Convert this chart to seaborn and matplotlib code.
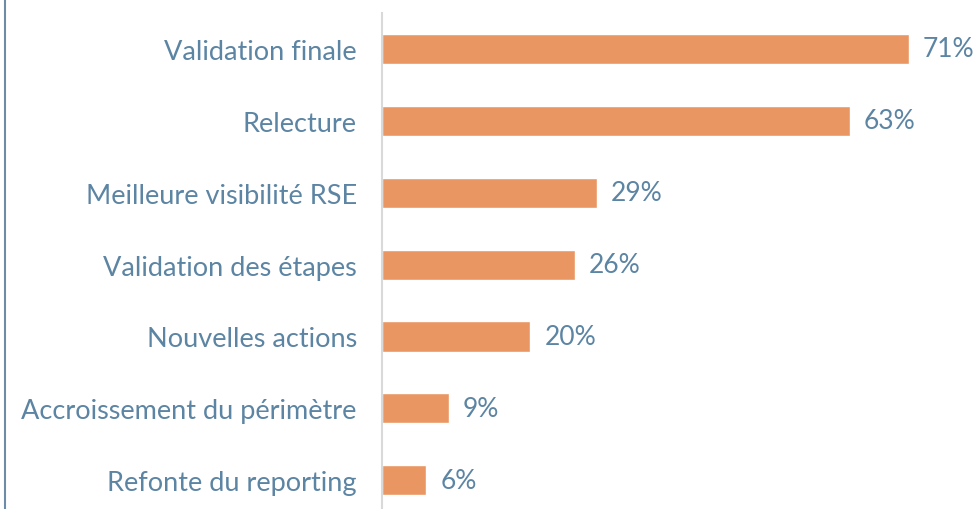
import matplotlib.pyplot as plt
import seaborn as sns
import pandas as pd
from matplotlib.lines import Line2D

# ---------------------------------------------------------
# Data
# ---------------------------------------------------------

categories = [
    "Validation finale",
    "Relecture",
    "Meilleure visibilité RSE",
    "Validation des étapes",
    "Nouvelles actions",
    "Accroissement du périmètre",
    "Refonte du reporting",
]

values = [71, 63, 29, 26, 20, 9, 6]

value_labels = ["71%", "63%", "29%", "26%", "20%", "9%", "6%"]

BAR_COLOR = "#EA9662"
TEXT_COLOR = "#5C84A3"

# ---------------------------------------------------------
# Plot Style
# ---------------------------------------------------------

sns.set_style("white")
plt.rcParams["font.family"] = ["Lato", "DejaVu Sans"]

df = pd.DataFrame({"category": categories, "value": values})

fig = plt.figure(figsize=(9.79, 5.10), dpi=100)
ax = fig.add_axes([0.390, 0.0, 0.607, 0.9725])

sns.barplot(
    data=df,
    x="value",
    y="category",
    orient="h",
    color=BAR_COLOR,
    width=0.42,
    saturation=1,
    ax=ax,
)

for patch, label in zip(ax.patches, value_labels):
    ax.annotate(
        label,
        (patch.get_width(), patch.get_y() + patch.get_height() / 2),
        xytext=(10, 0),
        textcoords="offset points",
        va="center",
        ha="left",
        fontsize=19,
        color=TEXT_COLOR,
    )

ax.set_xlim(0, 80)
ax.set_ylim(6.4, -0.5)

ax.set_xlabel("")
ax.set_ylabel("")
ax.set_xticks([])

ax.tick_params(axis="y", length=0, pad=18, labelsize=19.5, labelcolor=TEXT_COLOR)

for side in ["top", "right", "bottom"]:
    ax.spines[side].set_visible(False)

ax.spines["left"].set_color("#D9D9D9")
ax.spines["left"].set_linewidth(1.5)

# left border line of the frame
fig.add_artist(
    Line2D([5 / 979, 5 / 979], [0, 1], transform=fig.transFigure,
           color="#6C8CA8", linewidth=1.5)
)

fig.savefig("out.png", dpi=100)
plt.close(fig)
